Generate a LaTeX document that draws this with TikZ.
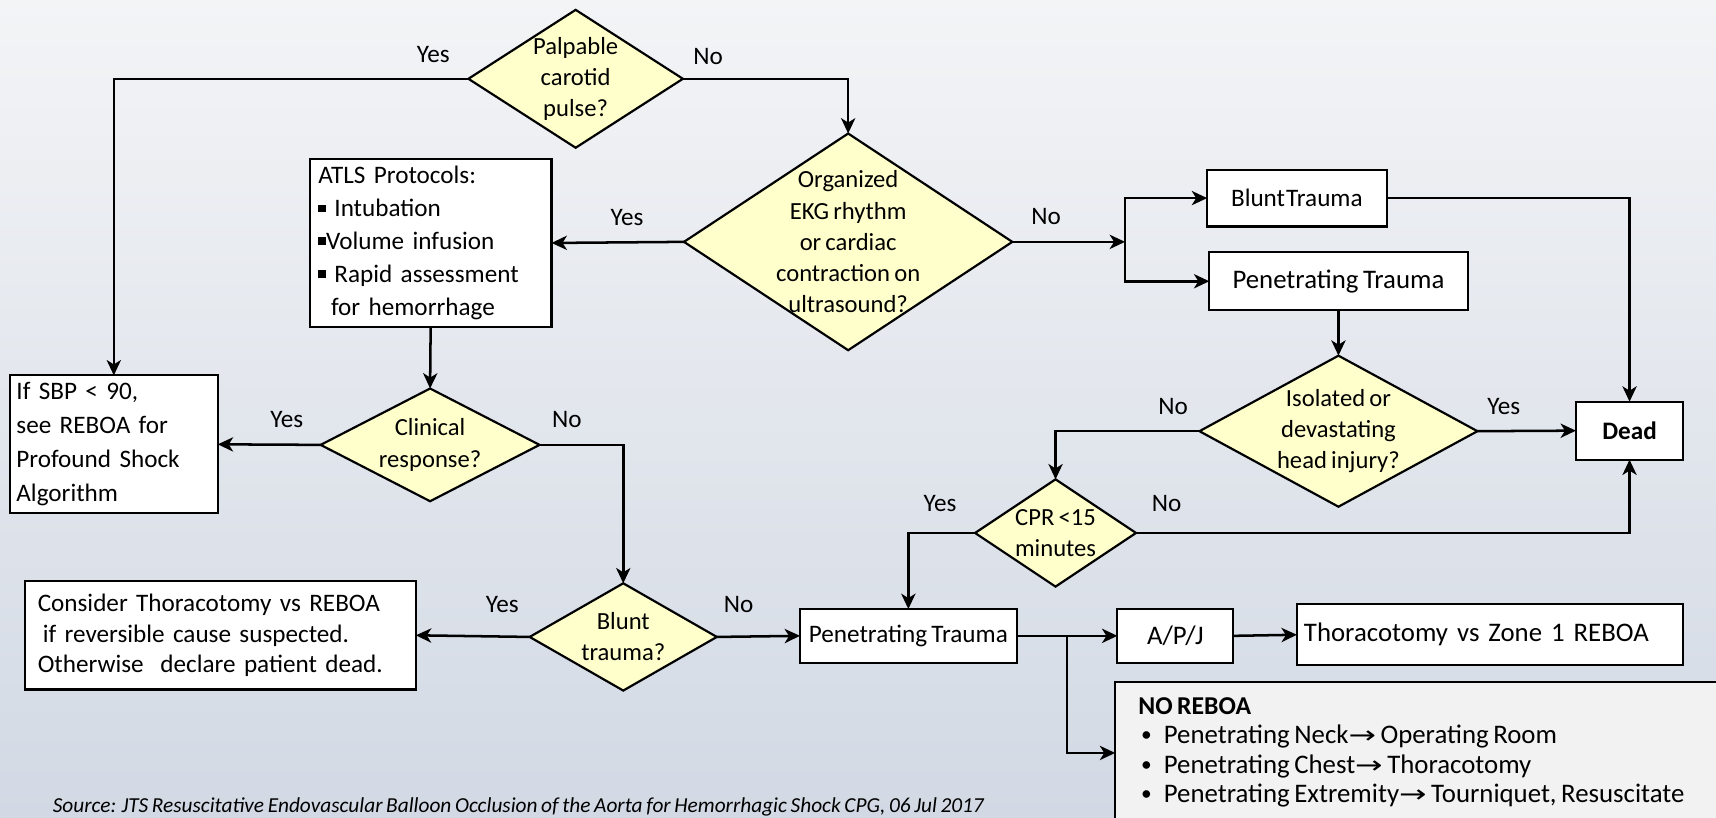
\documentclass[tikz,border=0pt]{standalone}
\usepackage{fontspec}
\usepackage{graphicx}
\setmainfont{Carlito}[WordSpace=0.75]
\newfontfamily\symf{DejaVu Sans}
\usetikzlibrary{arrows.meta,shapes.geometric,calc}
\definecolor{bgtop}{HTML}{F3F4F6}
\definecolor{bgbot}{HTML}{D2D9E4}
\definecolor{dfill}{HTML}{FFFFCC}
\definecolor{gfill}{HTML}{F2F2F2}
\newcommand\sqb{\rule[0.18em]{0.3em}{0.3em}}
\newcommand\rarr{\scalebox{1.5}[1.1]{\symf\fontsize{20}{20}\selectfont →}}
\newcommand\smbul{\raisebox{0.08em}{\scalebox{0.8}{\textbullet}}\hspace{0.45em}}
\begin{document}
\begin{tikzpicture}[x=1pt,y=-1pt,
  every node/.style={font=\fontsize{23}{30}\selectfont},
  dtext/.style={align=center,inner sep=0pt,font=\fontsize{22.5}{28.5}\selectfont},
  dia/.style={diamond,draw,line width=2pt,fill=dfill,inner sep=0pt,outer sep=0pt},
  box/.style={rectangle,draw,line width=2pt,fill=white,inner sep=0pt,outer sep=0pt},
  arr/.style={line width=2.3pt,-{Stealth[length=14pt,width=13pt,inset=4pt]}},
  lab/.style={inner sep=0pt}
]
\shade[top color=bgtop,bottom color=bgbot] (0,0) rectangle (1568,747);
\useasboundingbox (0,0) rectangle (1568,747);

% diamonds
\node[dia,minimum width=196pt,minimum height=126pt,label={[dtext]center:Palpable\\carotid\\pulse?}] (pal) at (526,72) {};
\node[dia,minimum width=300pt,minimum height=198pt,label={[dtext]center:Organized\\EKG rhythm\\or cardiac\\contraction on\\ultrasound?}] (org) at (775,221) {};
\node[dia,minimum width=254pt,minimum height=138pt,label={[dtext]center:Isolated or\\devastating\\head injury?}] (iso) at (1223,394) {};
\node[dia,minimum width=147pt,minimum height=98pt,label={[dtext]center:CPR <15\\minutes}] (cpr) at (964.5,487) {};
\node[dia,minimum width=200pt,minimum height=103pt,label={[dtext]center:Clinical\\response?}] (clin) at (393,406.5) {};
\node[dia,minimum width=171pt,minimum height=98pt,label={[dtext]center:Blunt\\trauma?}] (bt) at (569.5,582) {};

% boxes
\node[box,minimum width=221pt,minimum height=154pt,text width=205pt,align=left] (atls) at (393.5,222)
 {ATLS Protocols:\\\sqb\ Intubation\\\sqb Volume infusion\\\sqb\ Rapid assessment\\\hspace*{0.5em}for hemorrhage};
\node[box,minimum width=190pt,minimum height=126pt,text width=178pt,align=left,font=\fontsize{23}{31}\selectfont] (sbp) at (104,406)
 {If SBP < 90,\\see REBOA for\\Profound Shock\\Algorithm};
\node[box,minimum width=357pt,minimum height=99pt,text width=334pt,align=left,font=\fontsize{23}{28}\selectfont] (cons) at (201.5,580.5)
 {Consider Thoracotomy vs REBOA\\\hspace*{0.2em}if reversible cause suspected.\\Otherwise\ \ declare patient dead.};
\node[box,minimum width=164pt,minimum height=52pt] (blunt) at (1185,181) {Blunt\hspace{1pt}Trauma};
\node[box,minimum width=236pt,minimum height=53pt,font=\fontsize{24.5}{30}\selectfont] (pen1) at (1223,257) {Penetrating Trauma};
\node[box,minimum width=98pt,minimum height=53pt,font=\fontsize{23}{30}\selectfont\bfseries] (dead) at (1489,393.5) {Dead};
\node[box,minimum width=198pt,minimum height=49pt] (pen2) at (830,581) {Penetrating Trauma};
\node[box,minimum width=106pt,minimum height=49pt,font=\fontsize{24.5}{30}\selectfont] (apj) at (1074,581) {A/P/J};
\node[box,minimum width=353pt,minimum height=56pt,text width=340pt,align=left,font=\fontsize{24.5}{30}\selectfont] (thor) at (1361.5,580) {Thoracotomy vs Zone 1 REBOA};
\node[box,fill=gfill,line width=1.5pt,minimum width=555pt,minimum height=140pt,anchor=north west] (norb) at (1019,623) {};
\node[inner sep=0pt,anchor=north west,align=left,font=\fontsize{24.5}{27}\selectfont] (nrt) at (1040,637)
 {{\fontsize{23.5}{27}\selectfont\bfseries NO REBOA}\\
 \hspace*{0.1em}\smbul Penetrating Neck\rarr\ Operating Room\\
 \hspace*{0.1em}\smbul Penetrating Chest\rarr\ Thoracotomy\\
 \hspace*{0.1em}\smbul Penetrating Extremity\rarr\ Tourniquet, Resuscitate};

\coordinate (br) at (1028,221);
\coordinate (jn) at (975,581);
\coordinate (nin) at (1019,688);

% connectors
\draw[arr] (pal.west) -| (sbp.north);
\draw[arr] (pal.east) -| (org.north);
\draw[arr] (org.west) -- (atls.east);
\draw[arr] (org.east) -- (br);
\draw[arr] (br) |- (blunt.west);
\draw[arr] (br) |- (pen1.west);
\draw[arr] (blunt.east) -| (dead.north);
\draw[arr] (pen1.south) -- (iso.north);
\draw[arr] (iso.east) -- (dead.west);
\draw[arr] (iso.west) -| (cpr.north);
\draw[arr] (cpr.east) -| (dead.south);
\draw[arr] (cpr.west) -| (pen2.north);
\draw[arr] (atls.south) -- (clin.north);
\draw[arr] (clin.west) -- (sbp.east);
\draw[arr] (clin.east) -| (bt.north);
\draw[arr] (bt.west) -- (cons.east);
\draw[arr] (bt.east) -- (pen2.west);
\draw[arr] (pen2.east) -- (apj.west);
\draw[arr] (jn) |- (nin);
\draw[arr] (apj.east) -- (thor.west);

% branch labels
\node[lab] (l1) at (396,50) {Yes};
\node[lab] (l2) at (647,52) {No};
\node[lab] (l3) at (573,199) {Yes};
\node[lab] (l4) at (956,198) {No};
\node[lab] (l5) at (1072,371) {No};
\node[lab] (l6) at (1374,371) {Yes};
\node[lab] (l7) at (262,383) {Yes};
\node[lab] (l8) at (518,383) {No};
\node[lab] (l9) at (859,460) {Yes};
\node[lab] (l10) at (1066,460) {No};
\node[lab] (l11) at (459,552) {Yes};
\node[lab] (l12) at (675,552) {No};

\node[lab,anchor=west,font=\fontsize{19.5}{22}\selectfont\itshape] (src) at (48,737)
 {Source: JTS Resuscitative Endovascular Balloon Occlusion of the Aorta for Hemorrhagic Shock CPG, 06 Jul 2017};
\end{tikzpicture}
\end{document}
